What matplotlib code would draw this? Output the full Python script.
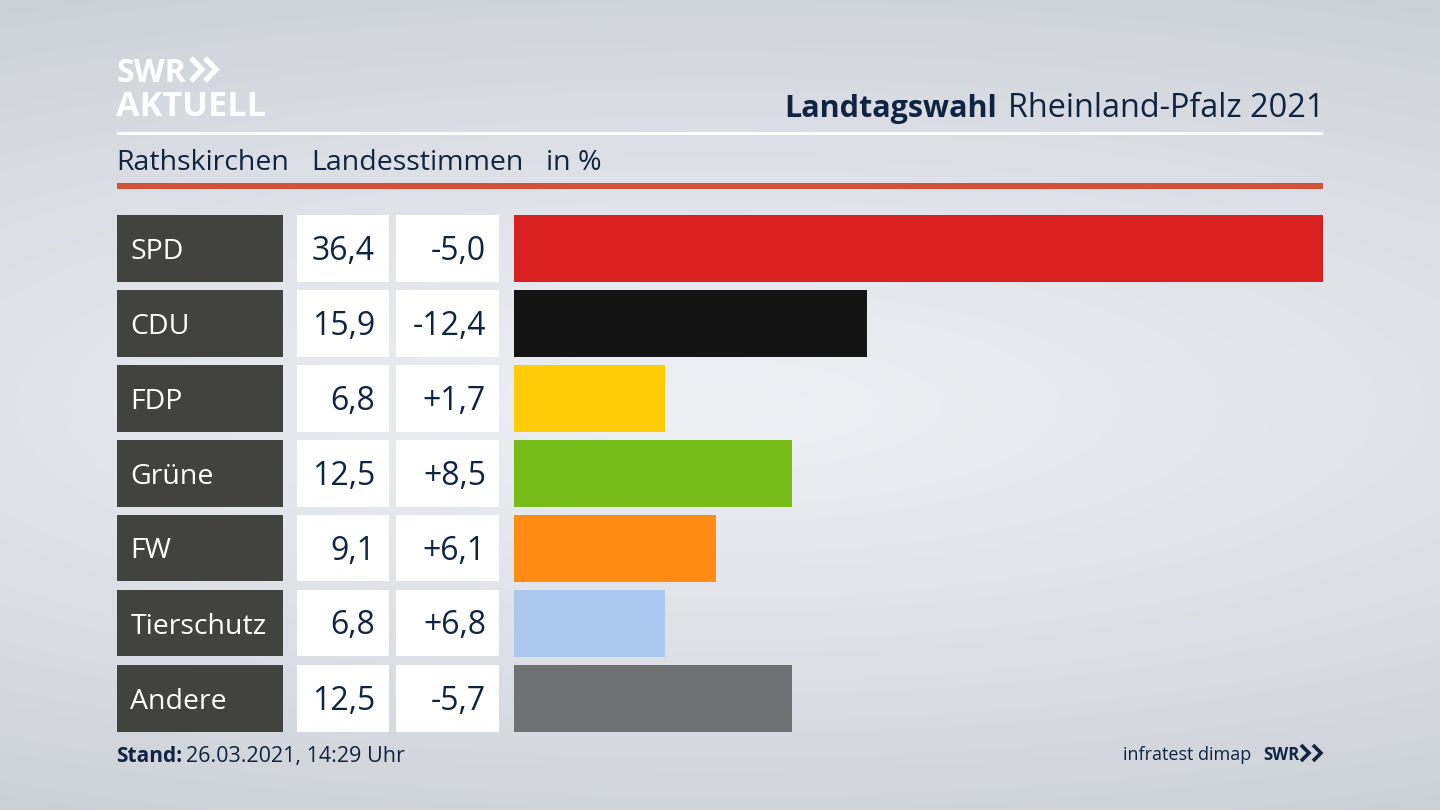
#!/usr/bin/env python
# coding: utf-8

import numpy as np
import matplotlib
matplotlib.use('Agg')
import matplotlib.pyplot as plt
from matplotlib.patches import Rectangle

parties = ['SPD', 'CDU', 'FDP', 'Grüne', 'FW', 'Tierschutz', 'Andere']
shares = [36.4, 15.9, 6.8, 12.5, 9.1, 6.8, 12.5]
changes = [-5.0, -12.4, 1.7, 8.5, 6.1, 6.8, -5.7]
colors = ['#d7201f', '#141414', '#ffcc06', '#78bc1a', '#fe8c14', '#abc8f0', '#707173']

W, H = 1440, 810
NAVY = '#0f2440'
FONT = 'Open Sans'


def de(v, sign=False):
  s = ('%+.1f' if sign else '%.1f') % v
  return s.replace('.', ',')


def chevrons(ax, x0, top, bottom, size, gap, lw, color):
  mid = (top + bottom) / 2.0
  for x in (x0, x0 + gap):
    ax.plot([x, x + size, x], [top, mid, bottom], color=color, lw=lw,
            solid_joinstyle='miter', solid_capstyle='butt')


def chart():
  fig = plt.figure(figsize=(14.4, 8.1), dpi=100)

  # background
  bg = fig.add_axes([0, 0, 1, 1], zorder=0)
  yy, xx = np.mgrid[0:H, 0:W]
  r = np.sqrt(((xx - 720) / 1500.0) ** 2 + ((yy - 405) / 440.0) ** 2)
  r = np.clip(r, 0, 1.2) / 1.2
  low = np.array([0xed, 0xef, 0xf3]) / 255.0
  high = np.array([0xc6, 0xca, 0xd2]) / 255.0
  img = low + (high - low) * r[..., None] ** 1.2
  bg.imshow(img, extent=(0, W, H, 0), aspect='auto', interpolation='bilinear')

  # logo
  bg.text(117, 82, 'SWR', color='white', fontsize=23, fontweight='bold', family=FONT, va='baseline')
  chevrons(bg, 191, 58, 81, 11, 14, 3.8, 'white')
  bg.text(116, 116, 'AKTUELL', color='white', fontsize=24.7, fontweight='bold', family=FONT, va='baseline')

  # header
  bg.add_patch(Rectangle((117, 132), 1206, 3, color='white', lw=0))
  bg.add_patch(Rectangle((117, 183), 1206, 6, color='#cf5239', lw=0))
  bg.text(1324, 117, 'Rheinland-Pfalz 2021', color=NAVY, fontsize=23.4, family=FONT, va='baseline', ha='right')
  bg.text(997, 117, 'Landtagswahl', color=NAVY, fontsize=22, fontweight='bold', family=FONT, va='baseline', ha='right')
  bg.text(116, 170, 'Rathskirchen', color=NAVY, fontsize=20.5, family=FONT, va='baseline')
  bg.text(311, 170, 'Landesstimmen', color=NAVY, fontsize=20.5, family=FONT, va='baseline')
  bg.text(546, 170, 'in %', color=NAVY, fontsize=20.5, family=FONT, va='baseline')

  # footer
  bg.text(116, 762, 'Stand:', color=NAVY, fontsize=15, fontweight='bold', family=FONT, va='baseline')
  bg.text(186, 762, '26.03.2021, 14:29 Uhr', color=NAVY, fontsize=15.45, family=FONT, va='baseline')
  bg.text(1251, 760, 'infratest dimap', color=NAVY, fontsize=13, family=FONT, va='baseline', ha='right')
  bg.text(1263, 760, 'SWR', color=NAVY, fontsize=12, fontweight='bold', family=FONT, va='baseline')
  chevrons(bg, 1301, 745, 761, 8, 12, 2.6, NAVY)

  # table cells
  top0, pitch, h = 215, 75, 66.8
  for i, p in enumerate(parties):
    y = top0 + i * pitch - (0.5 if i in (4, 5) else 0)
    base = y + 44
    bg.add_patch(Rectangle((117, y), 166, h, color='#42423f', lw=0))
    bg.add_patch(Rectangle((297, y), 92, h, color='white', lw=0))
    bg.add_patch(Rectangle((396, y), 103, h, color='white', lw=0))
    bg.text(130.5, base, p, color='white', fontsize=20.5, family=FONT, va='baseline')
    bg.text(375, base + 1, de(shares[i]), color=NAVY, fontsize=23, family=FONT, va='baseline', ha='right')
    bg.text(486, base + 1, de(changes[i], True), color=NAVY, fontsize=23, family=FONT, va='baseline', ha='right')

  bg.set_xlim(0, W)
  bg.set_ylim(H, 0)
  bg.axis('off')

  # bars
  ax = fig.add_axes([514 / W, 1 - 735.9 / H, 809 / W, 525 / H], zorder=1)
  ax.patch.set_alpha(0)
  ax.barh(range(len(parties)), shares, height=h / pitch, color=colors, linewidth=0)
  ax.set_xlim(0, 36.4)
  ax.set_ylim(6.5, -0.5)
  ax.axis('off')

  plt.savefig('out.png', dpi=100)


if __name__ == '__main__':
  chart()
